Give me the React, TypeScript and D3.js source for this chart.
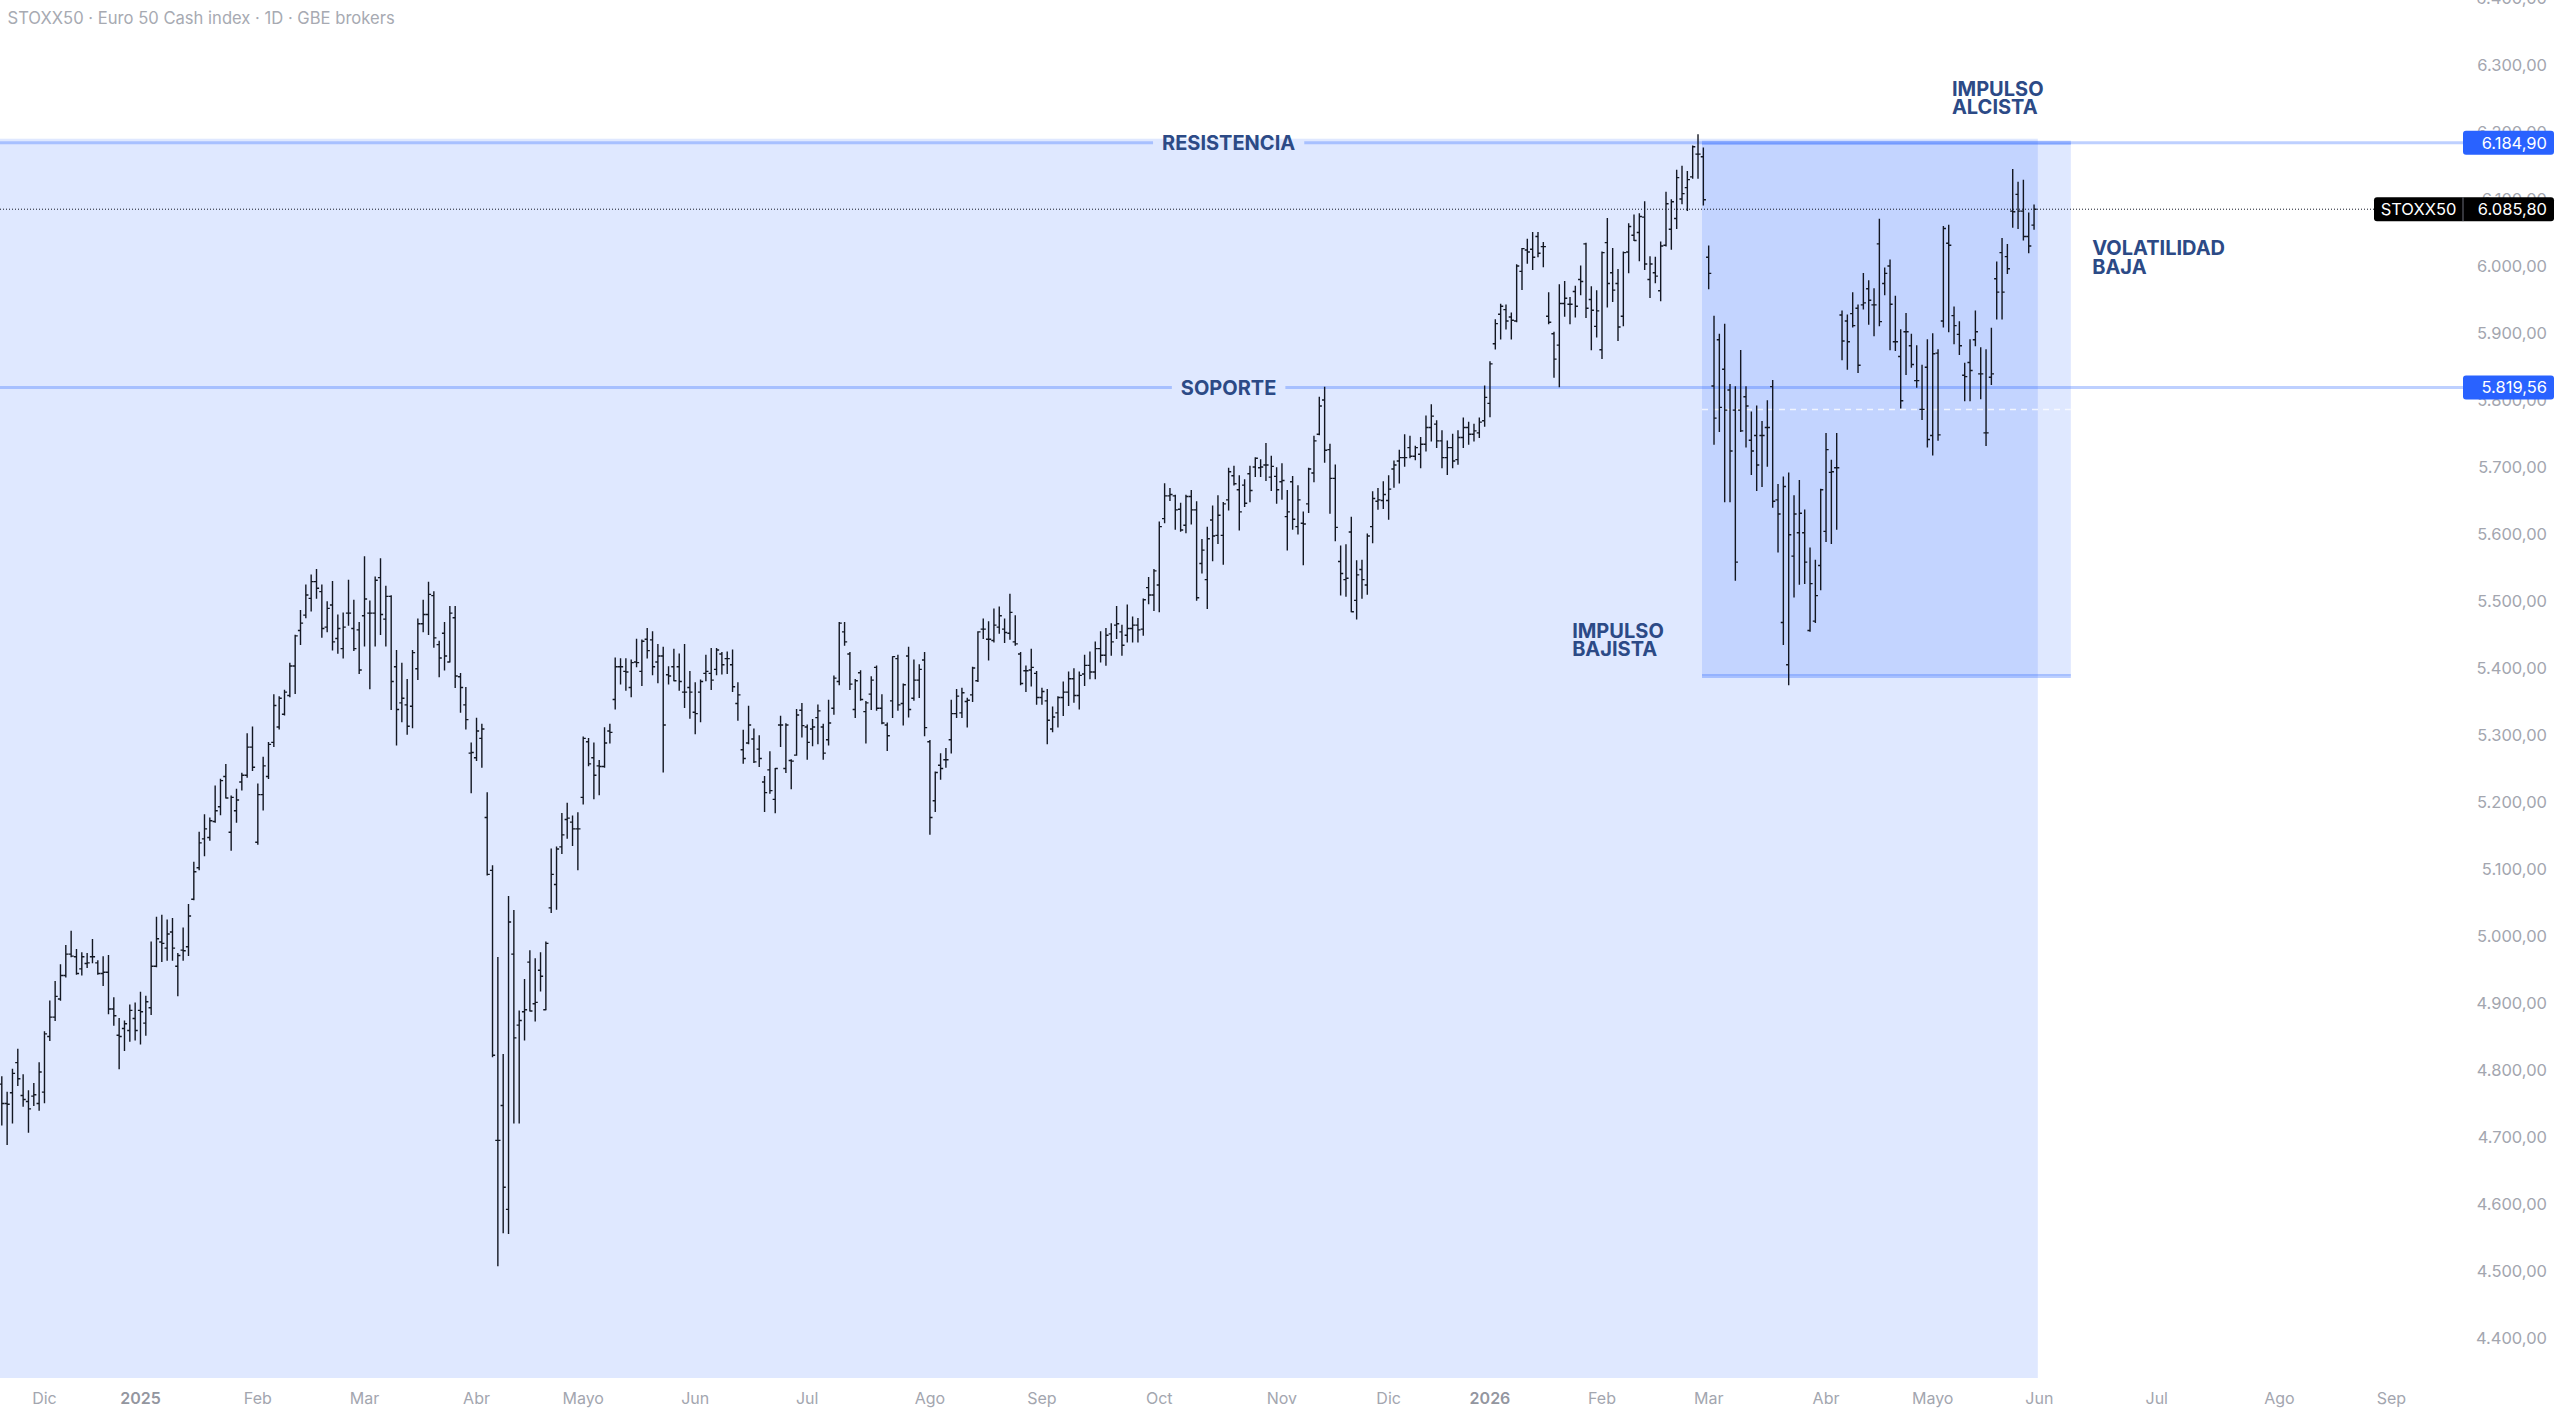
import React, { useRef, useEffect } from "react";
import * as d3 from "d3";

// open, high, low, close
type Bar = [number, number, number, number];

const title = "STOXX50 · Euro 50 Cash index · 1D · GBE brokers";
const symbol = "STOXX50";

const firstSession = "2024-11-20";
const axisEnd = "2026-09-30";
const holidays = [
  "2024-12-24", "2024-12-25", "2024-12-26", "2024-12-31", "2025-01-01",
  "2025-04-18", "2025-04-21", "2025-05-01",
  "2025-12-24", "2025-12-25", "2025-12-26", "2025-12-31", "2026-01-01",
  "2026-04-03", "2026-04-06", "2026-05-01",
];
const monthNames = ["Ene", "Feb", "Mar", "Abr", "Mayo", "Jun", "Jul", "Ago", "Sep", "Oct", "Nov", "Dic"];
const priceTicks = [
  4400, 4500, 4600, 4700, 4800, 4900, 5000, 5100, 5200, 5300, 5400,
  5500, 5600, 5700, 5800, 5900, 6000, 6100, 6200, 6300, 6400,
];

const resistance = 6184.9;
const support = 5819.56;
const lastClose = 6085.8;
const rangeTop = 6191;
const impulseHigh = 6184.9;
const impulseLow = 5389;

const nov2024: Bar[] = [
  [4780, 4791, 4719, 4751], [4751, 4768, 4690, 4750], [4767, 4802, 4722, 4796], [4812, 4832, 4778, 4788],
  [4763, 4794, 4747, 4757], [4754, 4770, 4708, 4743], [4762, 4781, 4748, 4764], [4751, 4812, 4741, 4798],
];
const dec2024: Bar[] = [
  [4768, 4858, 4752, 4855], [4851, 4904, 4845, 4880], [4880, 4933, 4875, 4911], [4907, 4958, 4905, 4942],
  [4942, 4987, 4940, 4974], [4974, 5008, 4970, 4971], [4970, 4981, 4944, 4945], [4952, 4976, 4943, 4970],
  [4960, 4975, 4954, 4961], [4970, 4996, 4961, 4970], [4961, 4964, 4944, 4945], [4945, 4970, 4927, 4947],
  [4947, 4972, 4885, 4892], [4892, 4909, 4868, 4882], [4853, 4878, 4803, 4851], [4863, 4874, 4830, 4870],
  [4860, 4898, 4844, 4890], [4878, 4901, 4846, 4860],
];
const jan2025: Bar[] = [
  [4890, 4917, 4840, 4888], [4871, 4911, 4853, 4903], [4894, 4992, 4884, 4956], [4956, 5029, 4955, 4997],
  [4992, 5032, 4963, 4990], [4983, 5025, 4965, 5004], [5007, 5027, 4965, 4983], [4956, 4975, 4912, 4972],
  [4980, 5013, 4965, 4979], [4985, 5048, 4972, 5031], [5056, 5111, 5055, 5097], [5103, 5156, 5100, 5140],
  [5146, 5182, 5121, 5161], [5148, 5177, 5144, 5173], [5172, 5225, 5171, 5188], [5194, 5235, 5182, 5233],
  [5239, 5257, 5207, 5207], [5156, 5210, 5129, 5208], [5188, 5220, 5171, 5204], [5231, 5244, 5219, 5241],
  [5241, 5303, 5238, 5283], [5283, 5313, 5248, 5253],
];
const feb2025: Bar[] = [
  [5141, 5228, 5138, 5212], [5212, 5268, 5189, 5255], [5239, 5290, 5236, 5287], [5290, 5361, 5284, 5345],
  [5313, 5358, 5310, 5356], [5332, 5368, 5331, 5365], [5360, 5408, 5358, 5404], [5404, 5450, 5363, 5449],
  [5457, 5487, 5436, 5468], [5480, 5525, 5476, 5510], [5505, 5540, 5486, 5530], [5530, 5548, 5505, 5520],
  [5515, 5525, 5447, 5460], [5462, 5500, 5455, 5490], [5495, 5530, 5428, 5440], [5445, 5480, 5423, 5460],
  [5430, 5483, 5416, 5462], [5483, 5532, 5465, 5483], [5460, 5502, 5427, 5430], [5458, 5469, 5393, 5398],
];
const mar2025: Bar[] = [
  [5479, 5567, 5434, 5504], [5483, 5501, 5370, 5483], [5483, 5537, 5434, 5532], [5536, 5564, 5451, 5481],
  [5474, 5523, 5434, 5508], [5508, 5509, 5339, 5381], [5403, 5427, 5286, 5339], [5349, 5408, 5321, 5356],
  [5346, 5384, 5302, 5314], [5344, 5427, 5312, 5424], [5400, 5474, 5384, 5467], [5467, 5502, 5455, 5481],
  [5481, 5529, 5451, 5511], [5509, 5515, 5432, 5446], [5436, 5441, 5388, 5416], [5453, 5469, 5398, 5419],
  [5410, 5493, 5410, 5483], [5476, 5493, 5372, 5389], [5388, 5393, 5335, 5372], [5346, 5372, 5310, 5324],
  [5274, 5289, 5215, 5275],
];
const apr2025: Bar[] = [
  [5267, 5326, 5263, 5307], [5296, 5317, 5253, 5310], [5178, 5215, 5092, 5093], [5099, 5106, 4821, 4823],
  [4696, 4969, 4509, 4696], [4748, 4824, 4558, 4626], [4593, 5060, 4557, 5022], [4974, 5039, 4722, 4849],
  [4868, 4889, 4722, 4875], [4888, 4936, 4846, 4891], [4962, 4979, 4889, 4889], [4900, 4967, 4874, 4902],
  [4950, 4976, 4919, 4941], [4891, 4992, 4891, 4990], [5043, 5131, 5036, 5093], [5078, 5134, 5041, 5131],
  [5134, 5184, 5124, 5152], [5175, 5199, 5147, 5177], [5171, 5180, 5136, 5161], [5161, 5185, 5100, 5161],
];
const may2025: Bar[] = [
  [5208, 5298, 5198, 5296], [5291, 5296, 5255, 5258], [5267, 5289, 5206, 5241], [5255, 5263, 5212, 5254],
  [5254, 5312, 5253, 5289], [5307, 5317, 5289, 5305], [5354, 5416, 5340, 5403], [5403, 5415, 5377, 5403],
  [5396, 5415, 5368, 5395], [5372, 5413, 5358, 5409], [5410, 5444, 5403, 5409], [5396, 5443, 5375, 5441],
  [5444, 5460, 5416, 5427], [5443, 5455, 5391, 5403], [5410, 5436, 5379, 5419], [5419, 5432, 5246, 5316],
  [5391, 5403, 5377, 5389], [5403, 5429, 5382, 5382], [5403, 5422, 5368, 5381], [5365, 5436, 5342, 5365],
  [5372, 5396, 5326, 5365],
];
const jun2025: Bar[] = [
  [5335, 5379, 5303, 5333], [5365, 5383, 5321, 5381], [5393, 5420, 5382, 5396], [5393, 5430, 5369, 5383],
  [5399, 5430, 5391, 5428], [5422, 5424, 5392, 5406], [5415, 5425, 5393, 5415], [5406, 5428, 5366, 5373],
  [5348, 5379, 5323, 5361], [5279, 5308, 5259, 5266], [5289, 5344, 5288, 5316], [5295, 5310, 5260, 5261],
  [5280, 5300, 5254, 5266], [5231, 5239, 5187, 5215], [5249, 5276, 5214, 5218], [5205, 5251, 5185, 5251],
  [5316, 5329, 5284, 5316], [5251, 5318, 5245, 5316], [5263, 5264, 5221, 5262], [5271, 5339, 5271, 5331],
  [5338, 5348, 5298, 5315],
];
const jul2025: Bar[] = [
  [5313, 5316, 5265, 5290], [5310, 5324, 5285, 5313], [5327, 5346, 5288, 5337], [5313, 5317, 5265, 5274],
  [5294, 5353, 5286, 5319], [5341, 5389, 5332, 5386], [5381, 5469, 5376, 5468], [5455, 5469, 5435, 5440],
  [5422, 5424, 5369, 5377], [5339, 5384, 5327, 5382], [5394, 5397, 5353, 5354], [5336, 5351, 5289, 5349],
  [5362, 5388, 5339, 5383], [5402, 5404, 5338, 5341], [5341, 5361, 5318, 5319], [5316, 5319, 5278, 5300],
  [5352, 5418, 5327, 5418], [5415, 5420, 5338, 5346], [5348, 5377, 5316, 5376], [5419, 5432, 5328, 5339],
  [5356, 5413, 5353, 5383], [5383, 5406, 5357, 5399], [5413, 5424, 5300, 5312],
];
const aug2025: Bar[] = [
  [5291, 5293, 5153, 5178], [5203, 5246, 5187, 5245], [5256, 5273, 5235, 5251], [5264, 5281, 5253, 5264],
  [5294, 5353, 5274, 5333], [5333, 5369, 5327, 5359], [5334, 5371, 5327, 5364], [5351, 5356, 5313, 5353],
  [5361, 5402, 5351, 5401], [5382, 5455, 5381, 5455], [5459, 5474, 5445, 5459], [5444, 5470, 5413, 5444],
  [5442, 5489, 5440, 5465], [5462, 5492, 5453, 5479], [5459, 5474, 5439, 5454], [5453, 5511, 5444, 5484],
  [5440, 5479, 5435, 5437], [5422, 5424, 5376, 5378], [5397, 5404, 5366, 5397], [5398, 5429, 5374, 5402],
  [5393, 5396, 5347, 5357],
];
const sep2025: Bar[] = [
  [5357, 5371, 5347, 5366], [5352, 5369, 5288, 5323], [5310, 5343, 5306, 5328], [5334, 5358, 5313, 5357],
  [5357, 5380, 5330, 5365], [5365, 5395, 5345, 5385], [5385, 5400, 5350, 5360], [5360, 5395, 5340, 5390],
  [5392, 5420, 5375, 5405], [5405, 5425, 5385, 5395], [5395, 5440, 5385, 5430], [5430, 5455, 5410, 5420],
  [5420, 5460, 5405, 5450], [5452, 5467, 5420, 5440], [5465, 5493, 5445, 5467], [5455, 5465, 5420, 5435],
  [5450, 5495, 5440, 5460], [5460, 5477, 5440, 5465], [5465, 5475, 5440, 5458], [5459, 5504, 5450, 5503],
  [5521, 5536, 5497, 5510], [5510, 5548, 5487, 5546],
];
const oct2025: Bar[] = [
  [5525, 5619, 5485, 5612], [5624, 5676, 5618, 5658], [5658, 5669, 5651, 5660], [5658, 5659, 5608, 5637],
  [5638, 5647, 5605, 5607], [5614, 5659, 5603, 5657], [5657, 5666, 5616, 5637], [5637, 5649, 5502, 5506],
  [5557, 5593, 5543, 5577], [5533, 5611, 5490, 5594], [5622, 5643, 5561, 5598], [5599, 5658, 5587, 5629],
  [5599, 5648, 5556, 5646], [5652, 5699, 5637, 5694], [5688, 5702, 5674, 5676], [5667, 5688, 5607, 5634],
  [5674, 5682, 5642, 5647], [5691, 5702, 5649, 5666], [5701, 5715, 5687, 5714], [5700, 5712, 5687, 5701],
  [5704, 5736, 5681, 5704], [5686, 5717, 5666, 5702], [5687, 5700, 5647, 5667],
];
const nov2025: Bar[] = [
  [5679, 5706, 5653, 5681], [5627, 5666, 5577, 5634], [5679, 5687, 5608, 5623], [5612, 5673, 5601, 5652],
  [5617, 5634, 5555, 5616], [5646, 5699, 5633, 5698], [5692, 5747, 5679, 5740], [5750, 5805, 5749, 5792],
  [5801, 5820, 5708, 5726], [5727, 5735, 5632, 5684], [5684, 5704, 5591, 5611], [5560, 5583, 5510, 5542],
  [5533, 5585, 5508, 5535], [5604, 5626, 5485, 5485], [5502, 5561, 5474, 5540], [5548, 5562, 5505, 5533],
  [5525, 5601, 5511, 5598], [5612, 5664, 5588, 5654], [5650, 5669, 5638, 5652], [5651, 5679, 5639, 5660],
];
const dec2025: Bar[] = [
  [5651, 5688, 5623, 5668], [5698, 5710, 5671, 5704], [5710, 5726, 5677, 5715], [5715, 5749, 5702, 5715],
  [5730, 5747, 5715, 5717], [5717, 5732, 5712, 5730], [5720, 5745, 5700, 5735], [5735, 5777, 5725, 5760],
  [5760, 5794, 5740, 5777], [5765, 5770, 5730, 5740], [5740, 5755, 5700, 5715], [5715, 5740, 5690, 5730],
  [5730, 5750, 5700, 5710], [5712, 5755, 5705, 5745], [5745, 5774, 5730, 5760], [5760, 5768, 5735, 5750],
  [5750, 5765, 5740, 5755], [5752, 5774, 5745, 5768], [5770, 5822, 5762, 5805],
];
const jan2026: Bar[] = [
  [5796, 5858, 5776, 5855], [5885, 5921, 5877, 5915], [5929, 5944, 5892, 5941], [5936, 5943, 5907, 5919],
  [5925, 5931, 5892, 5920], [5919, 6003, 5918, 6001], [5993, 6027, 5966, 6027], [6025, 6041, 6005, 6022],
  [6026, 6051, 5996, 6014], [6045, 6051, 6015, 6020], [6030, 6036, 6000, 6030], [5926, 5961, 5915, 5917],
  [5900, 5902, 5835, 5862], [5883, 5973, 5821, 5945], [5945, 5978, 5926, 5953], [5944, 5954, 5915, 5944],
  [5963, 5971, 5925, 5941], [5981, 6001, 5958, 5978], [6034, 6035, 5924, 5938], [5951, 5970, 5876, 5935],
  [5911, 5964, 5895, 5934],
];
const feb2026: Bar[] = [
  [5876, 6022, 5863, 6021], [6036, 6072, 5940, 5975], [5991, 6027, 5948, 5965], [5975, 5996, 5890, 5910],
  [5926, 6022, 5912, 6021], [6022, 6064, 5991, 6060], [6047, 6077, 6039, 6039], [6051, 6079, 6009, 6075],
  [6074, 6097, 5996, 6004], [5981, 6015, 5954, 6004], [5991, 6014, 5976, 5986], [5964, 6037, 5949, 6031],
  [6032, 6111, 6031, 6094], [6056, 6100, 6026, 6097], [6072, 6144, 6057, 6133], [6101, 6150, 6094, 6109],
  [6118, 6142, 6084, 6130], [6134, 6180, 6132, 6179], [6168, 6197, 6132, 6168], [6164, 6177, 6092, 6100],
];
const mar2026: Bar[] = [
  [6014, 6031, 5967, 5990], [5822, 5926, 5735, 5774], [5891, 5899, 5754, 5790], [5847, 5914, 5649, 5786],
  [5816, 5824, 5649, 5725], [5786, 5821, 5532, 5559], [5786, 5875, 5754, 5755], [5806, 5821, 5731, 5792],
  [5741, 5783, 5690, 5725], [5748, 5792, 5666, 5704], [5748, 5769, 5672, 5748], [5760, 5800, 5702, 5760],
  [5821, 5830, 5641, 5650], [5652, 5675, 5574, 5631], [5469, 5686, 5436, 5672], [5406, 5692, 5376, 5600],
  [5568, 5658, 5507, 5631], [5603, 5681, 5526, 5632], [5603, 5637, 5527, 5559], [5457, 5580, 5456, 5527],
  [5471, 5562, 5469, 5509], [5554, 5668, 5518, 5667],
];
const apr2026: Bar[] = [
  [5605, 5751, 5590, 5727], [5693, 5711, 5587, 5694], [5700, 5751, 5608, 5700], [5928, 5934, 5861, 5889],
  [5919, 5928, 5847, 5888], [5930, 5961, 5910, 5912], [5938, 5943, 5842, 5853], [5943, 5990, 5937, 5946],
  [5967, 5979, 5914, 5950], [5943, 5967, 5897, 5943], [6034, 6071, 5912, 5918], [5975, 5998, 5958, 5990],
  [6001, 6010, 5876, 5944], [5888, 5956, 5875, 5888], [5866, 5906, 5789, 5800], [5903, 5930, 5839, 5903],
  [5882, 5899, 5850, 5854], [5830, 5882, 5820, 5830], [5787, 5853, 5772, 5787], [5850, 5891, 5731, 5742],
];
const may2026: Bar[] = [
  [5748, 5900, 5719, 5870], [5871, 5876, 5741, 5749], [5919, 6060, 5910, 6057], [6035, 6062, 5903, 6032],
  [5927, 5940, 5885, 5912], [5899, 5918, 5869, 5882], [5838, 5856, 5800, 5836], [5857, 5891, 5800, 5845],
  [5891, 5934, 5882, 5903], [5840, 5879, 5803, 5840], [5752, 5876, 5733, 5752], [5835, 5908, 5824, 5840],
  [5982, 6007, 5922, 5962], [6021, 6042, 5922, 5962], [6015, 6033, 5990, 5997], [6083, 6145, 6059, 6082],
  [6108, 6126, 6057, 6083], [6083, 6129, 6040, 6045], [6045, 6080, 6021, 6031], [6062, 6092, 6056, 6085.8],
];

const allMonths = [
  nov2024, dec2024, jan2025, feb2025, mar2025, apr2025, may2025, jun2025, jul2025, aug2025,
  sep2025, oct2025, nov2025, dec2025, jan2026, feb2026, mar2026, apr2026, may2026,
];

const esLocale = d3.formatLocale({ decimal: ",", thousands: ".", grouping: [3], currency: ["", ""] });
const fmtPrice = esLocale.format(",.2f");

function buildSessions(): Date[] {
  const off = new Set(holidays);
  const out: Date[] = [];
  const end = new Date(axisEnd + "T00:00:00Z").getTime();
  for (let t = new Date(firstSession + "T00:00:00Z").getTime(); t <= end; t += 86400000) {
    const d = new Date(t);
    const wd = d.getUTCDay();
    if (wd === 0 || wd === 6) continue;
    if (off.has(d.toISOString().slice(0, 10))) continue;
    out.push(d);
  }
  return out;
}

const App: React.FC = () => {
  const ref = useRef<SVGSVGElement>(null);

  useEffect(() => {
    const svg = d3.select(ref.current);
    svg.selectAll("*").remove();

    const width = 2560,
      height = 1414,
      plotBottom = 1378,
      scaleLeft = 2463,
      barStep = 5.334;

    const font = "Inter, 'Noto Sans', sans-serif";
    const noteColor = "#2c4a86";
    const zoneFill = "rgba(41, 98, 255, 0.15)";
    const levelStroke = "rgba(41, 98, 255, 0.3)";
    const axisText = "#a3a6af";

    const sessions = buildSessions();
    const bars: Bar[] = allMonths.flat();

    // Scales: one slot per trading session
    const x = d3
      .scaleLinear()
      .domain([0, sessions.length - 1])
      .range([1.8, 1.8 + (sessions.length - 1) * barStep]);
    const y = d3.scaleLinear().domain([4400, 6300]).range([1338.7, 65.7]);

    svg.append("rect").attr("width", width).attr("height", height).attr("fill", "#ffffff");

    const defs = svg.append("defs");
    defs
      .append("clipPath")
      .attr("id", "plot-clip")
      .append("rect")
      .attr("x", 0)
      .attr("y", 0)
      .attr("width", scaleLeft)
      .attr("height", plotBottom);

    const plot = svg.append("g").attr("clip-path", "url(#plot-clip)");

    // Range zone (resistance down to bottom of pane)
    const zoneEnd = 381.7;
    plot
      .append("rect")
      .attr("x", x(-20))
      .attr("y", y(rangeTop))
      .attr("width", x(zoneEnd) - x(-20))
      .attr("height", plotBottom - y(rangeTop))
      .attr("fill", zoneFill);

    // Impulse box
    const boxStart = 318.75,
      boxEnd = 387.9;
    plot
      .append("rect")
      .attr("x", x(boxStart))
      .attr("y", y(impulseHigh))
      .attr("width", x(boxEnd) - x(boxStart))
      .attr("height", y(impulseLow) - y(impulseHigh))
      .attr("fill", zoneFill);
    [impulseHigh, impulseLow].forEach((p) => {
      plot
        .append("line")
        .attr("x1", x(boxStart))
        .attr("x2", x(boxEnd))
        .attr("y1", y(p))
        .attr("y2", y(p))
        .attr("stroke", "rgba(41, 98, 255, 0.3)")
        .attr("stroke-width", 4);
    });
    plot
      .append("line")
      .attr("x1", x(boxStart))
      .attr("x2", x(boxEnd))
      .attr("y1", y((impulseHigh + impulseLow) / 2))
      .attr("y2", y((impulseHigh + impulseLow) / 2))
      .attr("stroke", "rgba(255, 255, 255, 0.75)")
      .attr("stroke-width", 1.5)
      .attr("stroke-dasharray", "6 5");

    // Horizontal levels with a gap for their label
    const levelLines = plot.append("g");
    const levelLabels = plot.append("g");
    const levels = [
      { price: resistance, label: "RESISTENCIA" },
      { price: support, label: "SOPORTE" },
    ];
    levels.forEach((lv) => {
      const t = levelLabels
        .append("text")
        .attr("x", x(230))
        .attr("y", y(lv.price))
        .attr("dy", "0.36em")
        .attr("text-anchor", "middle")
        .style("font-family", font)
        .style("font-weight", 700)
        .style("font-size", "20px")
        .style("fill", noteColor)
        .text(lv.label);
      const bb = (t.node() as SVGTextElement).getBBox();
      const segs = [
        [0, bb.x - 9],
        [bb.x + bb.width + 9, scaleLeft],
      ];
      segs.forEach(([a, b]) => {
        levelLines
          .append("line")
          .attr("x1", a)
          .attr("x2", b)
          .attr("y1", y(lv.price))
          .attr("y2", y(lv.price))
          .attr("stroke", levelStroke)
          .attr("stroke-width", 3);
      });
    });

    // Multi-line notes
    const notes = [
      { idx: 365.6, price: 6255, lines: ["IMPULSO", "ALCISTA"] },
      { idx: 294.4, price: 5446, lines: ["IMPULSO", "BAJISTA"] },
      { idx: 391.9, price: 6017.5, lines: ["VOLATILIDAD", "BAJA"] },
    ];
    notes.forEach((n) => {
      n.lines.forEach((s, k) => {
        svg
          .append("text")
          .attr("x", x(n.idx))
          .attr("y", y(n.price) + k * 18.6)
          .style("font-family", font)
          .style("font-weight", 700)
          .style("font-size", "20px")
          .style("fill", noteColor)
          .text(s);
      });
    });

    // OHLC bars
    plot
      .append("g")
      .attr("fill", "none")
      .attr("stroke", "#131722")
      .attr("stroke-width", 1.4)
      .selectAll("path")
      .data(bars)
      .join("path")
      .attr("d", ([o, h, l, c], i) => {
        const cx = x(i);
        return (
          `M${cx},${y(h) - 0.5}V${y(l) + 0.5}` +
          `M${cx - 2.6},${y(o)}H${cx}` +
          `M${cx},${y(c)}H${cx + 2.6}`
        );
      });

    // Last price dotted line
    const tagLeft = 2374;
    svg
      .append("line")
      .attr("x1", 0)
      .attr("x2", tagLeft)
      .attr("y1", y(lastClose))
      .attr("y2", y(lastClose))
      .attr("stroke", "#131722")
      .attr("stroke-width", 1)
      .attr("stroke-dasharray", "1 2");

    // Price scale
    const axisRight = 2547;
    svg
      .append("g")
      .selectAll("text")
      .data(priceTicks)
      .join("text")
      .attr("x", axisRight)
      .attr("y", (d) => y(d))
      .attr("dy", "0.35em")
      .attr("text-anchor", "end")
      .style("font-family", font)
      .style("font-size", "16.5px")
      .style("fill", axisText)
      .text((d) => fmtPrice(d));

    // Level price tags
    const tagW = 91,
      tagH = 24;
    [resistance, support].forEach((p) => {
      svg
        .append("rect")
        .attr("x", scaleLeft)
        .attr("y", y(p) - tagH / 2)
        .attr("width", tagW)
        .attr("height", tagH)
        .attr("rx", 3)
        .attr("fill", "#2962ff");
      svg
        .append("text")
        .attr("x", axisRight)
        .attr("y", y(p))
        .attr("dy", "0.35em")
        .attr("text-anchor", "end")
        .style("font-family", font)
        .style("font-size", "16.5px")
        .style("fill", "#ffffff")
        .text(fmtPrice(p));
    });

    // Last price tag
    svg
      .append("rect")
      .attr("x", tagLeft)
      .attr("y", y(lastClose) - tagH / 2)
      .attr("width", scaleLeft + tagW - tagLeft)
      .attr("height", tagH)
      .attr("rx", 3)
      .attr("fill", "#000000");
    svg
      .append("line")
      .attr("x1", scaleLeft)
      .attr("x2", scaleLeft)
      .attr("y1", y(lastClose) - tagH / 2)
      .attr("y2", y(lastClose) + tagH / 2)
      .attr("stroke", "#6a6d78")
      .attr("stroke-width", 1);
    svg
      .append("text")
      .attr("x", (tagLeft + scaleLeft) / 2)
      .attr("y", y(lastClose))
      .attr("dy", "0.35em")
      .attr("text-anchor", "middle")
      .style("font-family", font)
      .style("font-size", "16.5px")
      .style("fill", "#ffffff")
      .text(symbol);
    svg
      .append("text")
      .attr("x", axisRight)
      .attr("y", y(lastClose))
      .attr("dy", "0.35em")
      .attr("text-anchor", "end")
      .style("font-family", font)
      .style("font-size", "16.5px")
      .style("fill", "#ffffff")
      .text(fmtPrice(lastClose));

    // Time scale: first session of each month
    const monthTicks = sessions
      .map((d, i) => ({ d, i }))
      .filter(({ d, i }) => i > 0 && d.getUTCMonth() !== sessions[i - 1].getUTCMonth());
    svg
      .append("g")
      .selectAll("text")
      .data(monthTicks)
      .join("text")
      .attr("x", (t) => x(t.i))
      .attr("y", 1404)
      .attr("text-anchor", "middle")
      .style("font-family", font)
      .style("font-size", "16px")
      .style("font-weight", (t) => (t.d.getUTCMonth() === 0 ? 600 : 400))
      .style("fill", (t) => (t.d.getUTCMonth() === 0 ? "#93969f" : axisText))
      .text((t) =>
        t.d.getUTCMonth() === 0 ? String(t.d.getUTCFullYear()) : monthNames[t.d.getUTCMonth()]
      );

    // Title
    svg
      .append("text")
      .attr("x", 7.5)
      .attr("y", 24.3)
      .style("font-family", font)
      .style("font-size", "16.6px")
      .style("fill", "#a7aab2")
      .text(title);
  }, []);

  return (
    <div style={{ position: "absolute", left: 0, top: 0, width: 2560, height: 1414, background: "#fff" }}>
      <svg ref={ref} width={2560} height={1414} style={{ display: "block" }} />
    </div>
  );
};

export default App;
